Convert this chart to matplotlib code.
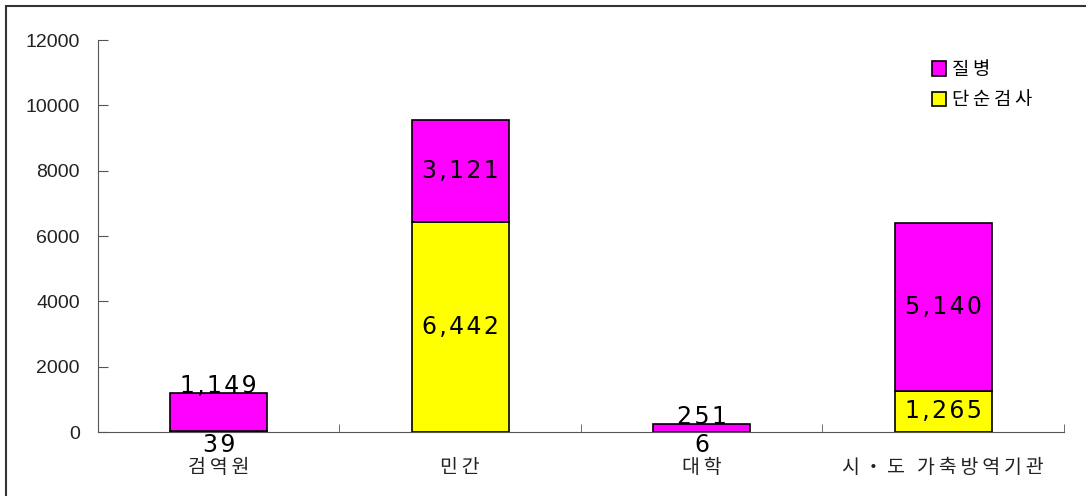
import matplotlib.pyplot as plt
import matplotlib.patches as mpatches
import numpy as np

plt.rcParams['font.family'] = ['Noto Sans CJK KR', 'DejaVu Sans']

categories = ['검역원', '민간', '대학', '시・도 가축방역기관']
simple_test = [39, 6442, 6, 1265]   # 단순검사
disease = [1149, 3121, 251, 5140]   # 질병
y_ticks = [0, 2000, 4000, 6000, 8000, 10000, 12000]


def spaced(s, sep='\u2009'):
    return sep.join(s)


def num(v):
    return spaced(f'{v:,}', '\u200a')


fig = plt.figure(figsize=(10.86, 4.96), dpi=100)
ax = fig.add_axes([0.0902, 0.129, 0.8895, 0.79])

x = np.arange(len(categories))
w = 0.4
b1 = ax.bar(x, simple_test, w, color='#FFFF00', edgecolor='black', linewidth=1.2, label=spaced('단순검사'))
b2 = ax.bar(x, disease, w, bottom=simple_test, color='#FF00FF', edgecolor='black', linewidth=1.2, label=spaced('질병'))

lab_kw = dict(ha='center', fontsize=17, color='black', family='DejaVu Sans')

for i in range(len(categories)):
    s, d = simple_test[i], disease[i]
    if s >= 1200:
        ax.text(x[i], s / 2, num(s), va='center', **lab_kw)
    else:
        ax.text(x[i], -20, num(s), va='top', **lab_kw)
    if d >= 1200 and s > 1200:
        ax.text(x[i], s + d / 2, num(d), va='center', **lab_kw)
    else:
        ax.text(x[i], s + d, num(d), va='baseline', **lab_kw)

ax.set_xlim(-0.5, 3.5)
ax.set_ylim(0, 12000)
ax.set_yticks(y_ticks)
ax.set_yticklabels([str(t) for t in y_ticks], fontsize=14, color='#222222', family='Liberation Sans')
ax.set_xticks(x)
ax.set_xticklabels([spaced(c) for c in categories], fontsize=14, color='#222222')
ax.set_xticks(list(x[1:] - 0.5) + [3.5], minor=True)
ax.tick_params(axis='x', which='major', length=0, pad=18)
ax.tick_params(axis='x', which='minor', direction='in', length=6, color='#555555')
ax.tick_params(axis='y', direction='in', length=7, color='#555555', pad=13)
for sp in ['top', 'right']:
    ax.spines[sp].set_visible(False)
for sp in ['left', 'bottom']:
    ax.spines[sp].set_color('#555555')

leg = ax.legend(handles=[b2, b1], loc='upper left', bbox_to_anchor=(0.846, 0.995),
                frameon=False, fontsize=13.5, handlelength=0.75, handleheight=0.8,
                handletextpad=0.3, labelspacing=0.5)

# figure frame (only left and top visible in the crop)
fig.patches.append(mpatches.Rectangle((6 / 1086, -0.1), 1.2, 1 - 6 / 496 + 0.1,
                                      transform=fig.transFigure, fill=False,
                                      edgecolor='#333333', linewidth=1.5))

fig.savefig('out.png', dpi=100)
